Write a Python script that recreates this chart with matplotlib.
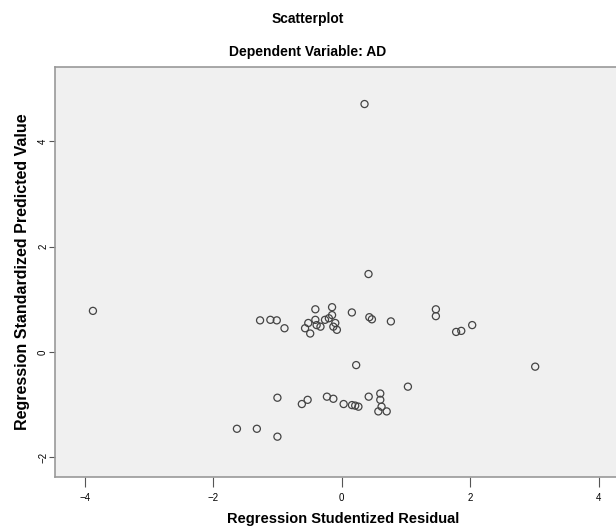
import matplotlib
matplotlib.use("Agg")
import matplotlib.pyplot as plt

plt.rcParams['font.family'] = ['Liberation Sans', 'DejaVu Sans']

# studentized residual (x) vs standardized predicted value (y)
residual = [
    0.355, 0.417, -3.87, 3.01, 1.03, 0.225,
    # upper cluster
    -1.27, -1.11, -1.01, -0.89, -0.41, -0.15, -0.15, -0.57, -0.49, -0.52,
    -0.39, -0.41, -0.26, -0.33, -0.13, -0.075, -0.10, -0.20,
    0.158, 0.43, 0.47, 0.765, 1.465, 1.465, 1.78, 1.86, 2.03,
    # lower cluster
    -1.00, -0.62, -0.53, -0.23, -0.13, 0.03, 0.16, 0.21, 0.26,
    0.42, 0.60, 0.60, 0.57, 0.70, 0.62,
    -1.63, -1.32, -1.00,
]
predicted = [
    4.71, 1.48, 0.78, -0.28, -0.66, -0.25,
    0.60, 0.61, 0.60, 0.45, 0.81, 0.85, 0.70, 0.45, 0.35, 0.55,
    0.51, 0.61, 0.61, 0.48, 0.48, 0.42, 0.55, 0.64,
    0.75, 0.66, 0.62, 0.58, 0.81, 0.68, 0.38, 0.40, 0.51,
    -0.87, -0.99, -0.91, -0.85, -0.89, -0.99, -1.01, -1.02, -1.04,
    -0.85, -0.79, -0.91, -1.13, -1.13, -1.04,
    -1.46, -1.46, -1.61,
]
xticks = [-4, -2, 0, 2, 4]
yticks = [-2, 0, 2, 4]

fig = plt.figure(figsize=(6.16, 5.27), dpi=100)
ax = fig.add_axes([0.0893, 0.0955, 0.935, 0.778])
ax.set_facecolor('#f0f0f0')

ax.scatter(residual, predicted, s=26, facecolors='none', edgecolors='#444444', linewidths=0.9)

ax.set_xlim(-4.46, 4.5)
ax.set_ylim(-2.37, 5.42)
ax.set_xticks(xticks)
ax.set_yticks(yticks)
ax.tick_params(axis='x', labelsize=7, length=7, width=0.8, color='#555555', pad=5)
ax.tick_params(axis='y', labelsize=7, length=4, width=0.8, color='#555555', pad=1)
for lbl in ax.get_yticklabels():
    lbl.set_rotation(90)
    lbl.set_va('center')

for side in ['left', 'top', 'bottom']:
    ax.spines[side].set_color('#999999')
    ax.spines[side].set_linewidth(1.2)
ax.spines['right'].set_visible(False)

ax.set_xlabel('Regression Studentized Residual', fontsize=10.5, fontweight='bold', va='center')
ax.set_ylabel('Regression Standardized Predicted Value', fontsize=11.5, fontweight='bold', va='center')
ax.xaxis.set_label_coords(0.5, -0.103)
ax.yaxis.set_label_coords(-0.057, 0.5)

fig.text(0.5, 1 - 19 / 527, 'Scatterplot', ha='center', va='center', fontsize=10, fontweight='bold')
fig.text(0.5, 1 - 52 / 527, 'Dependent Variable: AD', ha='center', va='center', fontsize=10, fontweight='bold')

fig.savefig('out.png', dpi=100)
